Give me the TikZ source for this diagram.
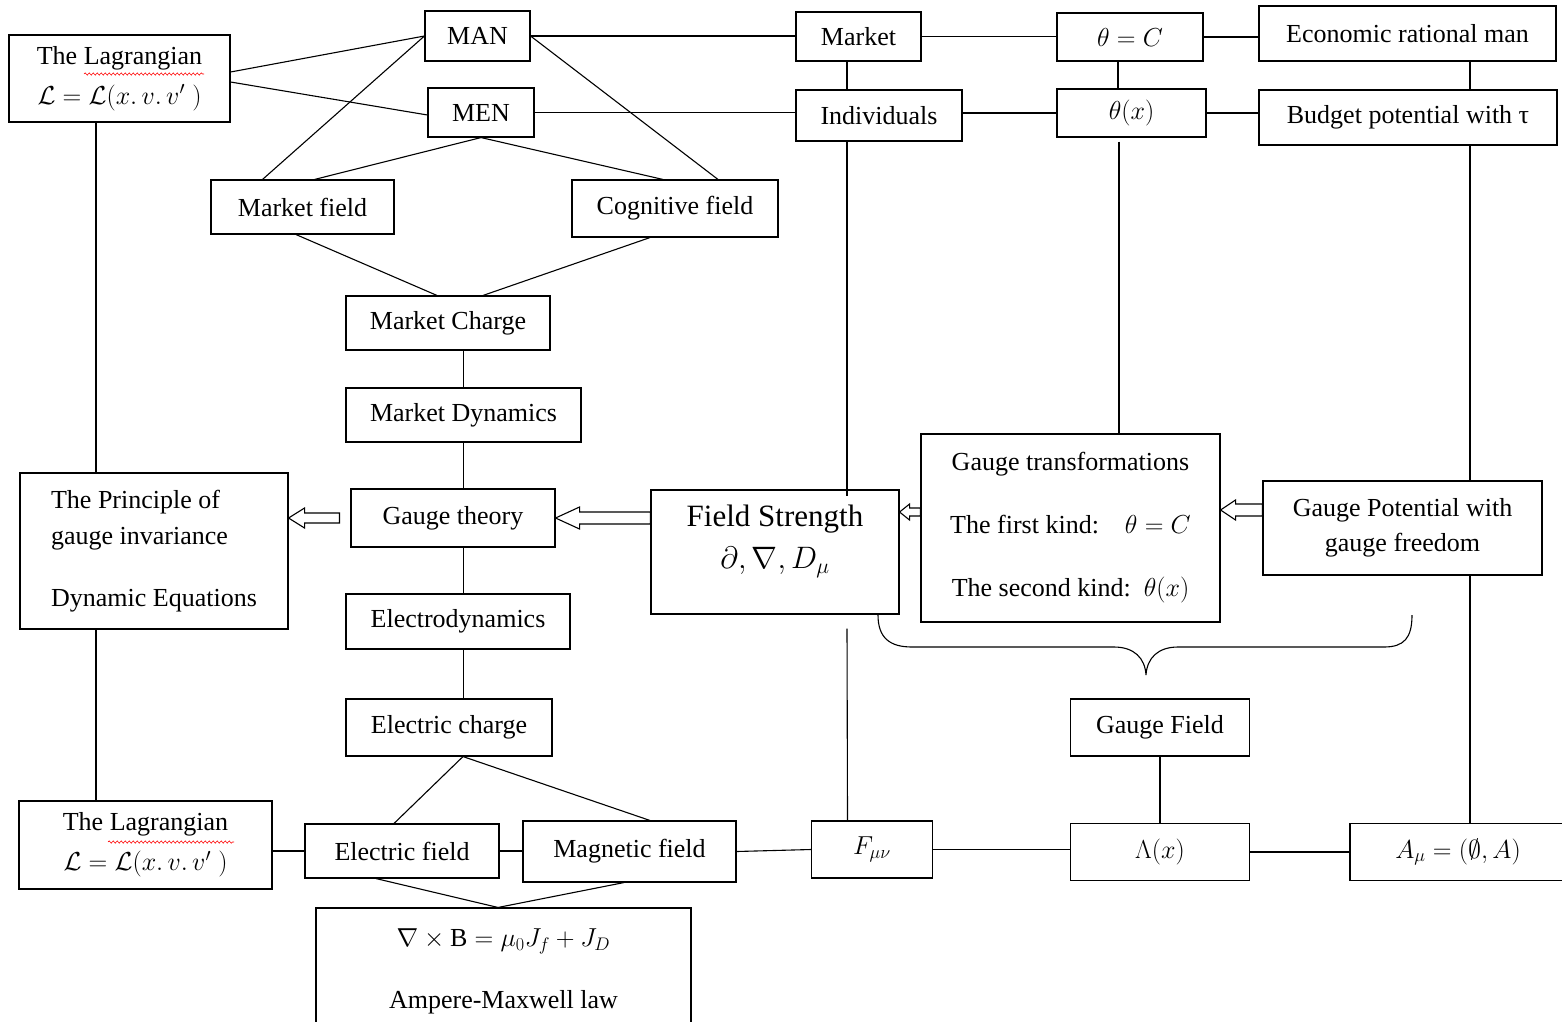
\RequirePackage{fix-cm}
\documentclass[tikz,border=0pt]{standalone}
\usepackage{fontspec}
\setmainfont{Liberation Serif}
\usetikzlibrary{
    calc,
    decorations.pathmorphing,
}

\newcommand{\hollowarrow}[5]{%
    \draw let \p1 = (#1), \p2 = (#2) in
        (\p1) -- (\x1+#5,\y1+#4) -- (\x1+#5,\y1+#3) -- (\x2,\y1+#3)
        -- (\x2,\y1-#3) -- (\x1+#5,\y1-#3) -- (\x1+#5,\y1-#4) -- cycle;}

\begin{document}
\begin{tikzpicture}[x=1pt, y=-1pt, line width=1.1pt,
    main/.style = {draw, rectangle, inner sep=0pt, align=center, font={\fontsize{26}{31}\selectfont}},
    spell/.style = {red, line width=0.6pt, decorate, decoration={snake, amplitude=1.1pt, segment length=4pt}}]
    \useasboundingbox (0,0) rectangle (1562,1021);

    \node[main, minimum width=221, minimum height=87] (lagtop) at (119.5,78.5) {The Lagrangian\\[9pt]$\mathcal{L}=\mathcal{L}(x.\,v.\,v^{\prime}\;)$};
    \node[main, minimum width=105, minimum height=50] (man) at (477.5,36) {MAN};
    \node[main, minimum width=106, minimum height=49] (men) at (481,112.5) {MEN};
    \node[main, minimum width=183, minimum height=54] (mfield) at (302.5,207) {Market field};
    \node[main, minimum width=206, minimum height=57] (cfield) at (675,208.5) {Cognitive field};
    \node[main, minimum width=204, minimum height=54] (mcharge) at (448,323) {Market Charge};
    \node[main, minimum width=235, minimum height=54] (mdyn) at (463.5,415) {Market Dynamics};
    \node[main, minimum width=204, minimum height=58] (gtheory) at (453,518) {Gauge theory};
    \node[main, minimum width=268, minimum height=156, align=left] (principle) at (154,551) {The Principle of\\[5pt]gauge invariance\\[31pt]Dynamic Equations};
    \node[main, minimum width=224, minimum height=55] (edyn) at (458,621.5) {Electrodynamics};
    \node[main, minimum width=206, minimum height=57] (echarge) at (449,727.5) {Electric charge};
    \node[main, minimum width=253, minimum height=88] (lagbot) at (145.5,845) {The Lagrangian\\[9pt]$\mathcal{L}=\mathcal{L}(x.\,v.\,v^{\prime}\;)$};
    \node[main, minimum width=194, minimum height=54] (efield) at (402,851) {Electric field};
    \node[main, minimum width=213, minimum height=61] (bfield) at (629.5,851.5) {Magnetic field};
    \node[main, minimum width=375, minimum height=127] (ampere) at (503.5,971.5) {$\nabla\times\mathrm{B}=\mu_0J_f+J_D$\\[31pt]Ampere-Maxwell law};

    \node[main, minimum width=125, minimum height=49] (market) at (858.5,36.5) {Market};
    \node[main, minimum width=166, minimum height=51] (indiv) at (879,115.5) {Individuals};
    \node[main, minimum width=146, minimum height=48] (thetac) at (1130,37) {$\theta=C$};
    \node[main, minimum width=149, minimum height=48] (thetax) at (1131.5,113) {$\theta(x)$};
    \node[main, minimum width=297, minimum height=55] (econ) at (1407.5,33.5) {Economic rational man};
    \node[main, minimum width=298, minimum height=55] (budget) at (1408,117.5) {Budget potential with τ};
    \node[main, minimum width=248, minimum height=124, font={\fontsize{31}{37}\selectfont}] (fstrength) at (775,552) {Field Strength\\[5pt]$\partial,\nabla,D_\mu$\rule[-30pt]{0pt}{30pt}};
    \node[main, minimum width=299, minimum height=188] (gtrans) at (1070.5,528) {Gauge transformations\\[32pt]The first kind:\quad$\theta=C$\\[32pt]The second kind:\enspace$\theta(x)$};
    \node[main, minimum width=279, minimum height=94] (gpot) at (1402.5,528) {Gauge Potential with\\[4pt]gauge freedom};
    \node[main, minimum width=179, minimum height=57] (gfield) at (1160,727.5) {Gauge Field};
    \node[main, minimum width=121, minimum height=57] (fmn) at (872,849.5) {$F_{\mu\nu}$};
    \node[main, minimum width=179, minimum height=57] (lam) at (1160,852) {$\Lambda(x)$};
    \node[main, minimum width=216, minimum height=57] (amu) at (1458,852) {$A_\mu=(\emptyset,A)$};

    \draw ([yshift=6.5pt]lagtop.east) -- (man.west);
    \draw ([yshift=-3.5pt]lagtop.east) -- ([yshift=-2.5pt]men.west);
    \draw (man.west) -- ([xshift=-40pt]mfield.north);
    \draw (men.south) -- ([xshift=12pt]mfield.north);
    \draw (men.south) -- ([xshift=-12pt]cfield.north);
    \draw (man.east) -- ([xshift=43pt]cfield.north);
    \draw ([xshift=-6.5pt]mfield.south) -- ([xshift=-11pt]mcharge.north);
    \draw ([xshift=-25pt]cfield.south) -- ([xshift=35pt]mcharge.north);
    \draw (mdyn.north |- mcharge.south) -- (mdyn.north);
    \draw (mdyn.south) -- (mdyn.south |- gtheory.north);
    \draw (mdyn.south |- gtheory.south) -- (mdyn.south |- edyn.north);
    \draw (mdyn.south |- edyn.south) -- (mdyn.south |- echarge.north);
    \draw ([xshift=14pt]echarge.south) -- ([xshift=-8pt]efield.north);
    \draw ([xshift=14pt]echarge.south) -- ([xshift=20.5pt]bfield.north);
    \draw ([xshift=-26pt]efield.south) -- ([xshift=-5.5pt]ampere.north);
    \draw ([xshift=-5.5pt]bfield.south) -- ([xshift=-5.5pt]ampere.north);
    \draw (efield.west -| lagbot.east) -- (efield.west);
    \draw (efield.east) -- (efield.east -| bfield.west);
    \draw (bfield.east) -- (fmn.west);
    \draw (fmn.east) -- (fmn.east -| lam.west);
    \draw (lam.east) -- (lam.east -| amu.west);
    \draw (gfield.south) -- (lam.north);
    \draw ([xshift=-23.5pt]lagtop.south) -- ([xshift=-58pt]principle.north);
    \draw ([xshift=-58pt]principle.south) -- ([xshift=-49.5pt]lagbot.north);

    \draw (man.east) -- (man.east -| market.west);
    \draw (men.east) -- (men.east -| indiv.west);
    \draw ([xshift=-11.5pt]market.south) -- ([xshift=-32pt]indiv.north);
    \draw (market.east) -- (market.east -| thetac.west);
    \draw (thetac.east) -- (thetac.east -| econ.west);
    \draw ([xshift=-12pt]thetac.south) -- ([xshift=-13.5pt]thetax.north);
    \draw (thetax.west -| indiv.east) -- (thetax.west);
    \draw (thetax.east) -- (thetax.east -| budget.west);
    \draw ([xshift=62.5pt]econ.south) -- ([xshift=62pt]budget.north);
    \draw ([xshift=62pt]budget.south) -- ([xshift=67.5pt]gpot.north);
    \draw ([xshift=67.5pt]gpot.south) -- ([xshift=12pt]amu.north);
    \draw ([xshift=-12.5pt, yshift=-4pt]thetax.south) -- ([xshift=48.5pt]gtrans.north);
    \draw ([xshift=-32pt]indiv.south) -- ([xshift=72pt, yshift=-7pt]fstrength.north);
    \draw ([xshift=72pt, yshift=-14pt]fstrength.south) -- ([xshift=-24.5pt]fmn.north);

    \hollowarrow{principle.east |- gtheory.west}{[xshift=-11pt]gtheory.west}{5pt}{10pt}{16pt}
    \hollowarrow{gtheory.east}{fstrength.west}{6pt}{11pt}{24pt}
    \hollowarrow{[yshift=40pt]fstrength.east}{gtrans.west}{4pt}{8pt}{10pt}
    \hollowarrow{[yshift=18pt]gtrans.east}{gpot.west}{6pt}{10pt}{15pt}

    \draw (878,615) .. controls (878,638) and (890,647) .. (912,647) -- (1114,647)
        .. controls (1134,647) and (1145,658) .. (1146,675)
        .. controls (1147,658) and (1158,647) .. (1178,647) -- (1384,647)
        .. controls (1404,647) and (1412,638) .. (1412,615);

    \draw[spell] (84,74) -- (204,74);
    \draw[spell] (108,842) -- (234,842);
\end{tikzpicture}
\end{document}
